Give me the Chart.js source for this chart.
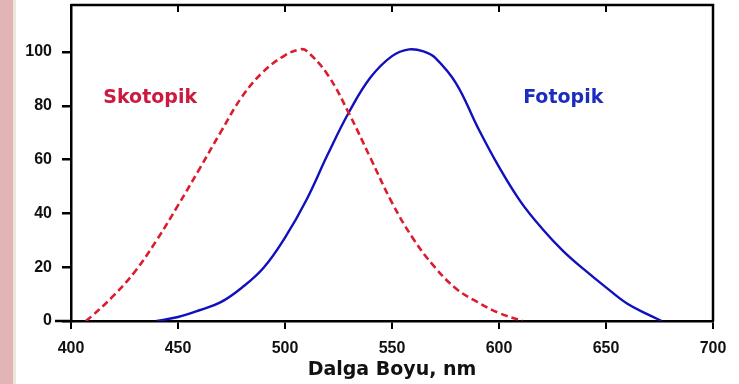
<!DOCTYPE html>
<html>
<head>
<meta charset="utf-8">
<script src="https://cdn.jsdelivr.net/npm/chart.js@4.4.1/dist/chart.umd.min.js"></script>
<style>
    body { margin: 0; width: 739px; height: 384px; background: #fff; position: relative; overflow: hidden; }
    #franja { position: absolute; left: 0; top: 0; width: 13px; height: 384px; background: #e2b4b5; }
    #franja2 { position: absolute; left: 13px; top: 0; width: 3px; height: 384px; background: #ece8de; }
    #caja { position: absolute; left: 16px; top: 0; width: 723px; height: 384px; }
</style>
</head>
<body>
<div id="franja"></div>
<div id="franja2"></div>
<div id="caja"><canvas id="grafico" width="723" height="384"></canvas></div>

<script>
// datos (longitud de onda en nm, sensibilidad relativa)
const nmSkotopik = [407, 410, 420, 430, 440, 450, 460, 470, 480, 490, 500, 507, 510, 520, 530, 540, 550, 560, 570, 580, 590, 600, 611]
const valSkotopik = [0, 2, 9.5, 18.5, 30, 43, 56.5, 70.3, 83.5, 92.8, 98.8, 101, 100.5, 91.5, 77, 60.5, 44, 30.5, 20, 12, 7, 3, 0]

const nmFotopik = [440, 450, 460, 470, 480, 490, 500, 510, 520, 530, 540, 550, 558, 565, 570, 580, 590, 600, 610, 620, 630, 640, 650, 660, 670, 676]
const valFotopik = [0, 1.5, 4, 7, 12.5, 19.8, 31, 45, 62, 77.8, 90.6, 98.5, 101, 100.2, 98, 88.3, 72.1, 57.3, 44.5, 34.5, 26, 19, 12.5, 6.4, 2.3, 0]

const nombres = ["Skotopik", "Fotopik"]
const ticksX = [400, 450, 500, 550, 600, 650, 700]
const ticksY = [0, 20, 40, 60, 80, 100]

const rojo = "#dc1c2e"
const azul = "#1010bc"

const puntos = (xs, ys) => xs.map((x, i) => ({ x: x, y: ys[i] }))

// donde van los nombres de las curvas (en unidades del grafico)
const lugarNombres = [{ x: 437, y: 83, color: "#cc1a3f" }, { x: 630, y: 83, color: "#1c2cbf" }]

// marco, marcas de arriba y linea del cero
const marco = {
    id: "marco",
    afterDraw(chart) {
        const { ctx, chartArea: a, scales } = chart
        ctx.save()
        ctx.strokeStyle = "#000"
        ctx.lineWidth = 2.5
        ctx.beginPath()
        ctx.moveTo(a.left, a.top)
        ctx.lineTo(a.right, a.top)
        ctx.lineTo(a.right, a.bottom)
        ctx.stroke()

        ctx.lineWidth = 2
        ticksX.slice(1, -1).forEach(v => {
            const x = scales.x.getPixelForValue(v)
            ctx.beginPath()
            ctx.moveTo(x, a.top)
            ctx.lineTo(x, a.top + 7)
            ctx.stroke()
        })

        const y0 = scales.y.getPixelForValue(0)
        ctx.lineWidth = 2.5
        ctx.beginPath()
        ctx.moveTo(a.left - 16, y0)
        ctx.lineTo(a.left, y0)
        ctx.stroke()

        ctx.font = 'bold 19px "DejaVu Sans", sans-serif'
        ctx.textAlign = "center"
        ctx.textBaseline = "middle"
        nombres.forEach((n, i) => {
            const p = lugarNombres[i]
            ctx.fillStyle = p.color
            ctx.fillText(n, scales.x.getPixelForValue(p.x), scales.y.getPixelForValue(p.y))
        })
        ctx.restore()
    }
}

const config = {
    type: "line",
    data: {
        datasets: [
            {
                label: nombres[0],
                data: puntos(nmSkotopik, valSkotopik),
                borderColor: rojo,
                borderWidth: 2.6,
                borderDash: [7, 4],
                pointRadius: 0,
                tension: 0.4
            },
            {
                label: nombres[1],
                data: puntos(nmFotopik, valFotopik),
                borderColor: azul,
                borderWidth: 2.4,
                pointRadius: 0,
                tension: 0.4
            }
        ]
    },
    options: {
        responsive: false,
        animation: false,
        layout: { padding: { top: 5, right: 26, left: 0, bottom: 0 } },
        plugins: { legend: { display: false }, tooltip: { enabled: false } },
        scales: {
            x: {
                type: "linear",
                min: 400,
                max: 700,
                afterFit: (s) => { s.height = 63 },
                border: { display: true, color: "#000", width: 2.5 },
                grid: { drawOnChartArea: false, drawTicks: true, tickLength: 8, color: "#000", lineWidth: 2 },
                ticks: {
                    stepSize: 10,
                    autoSkip: false,
                    maxRotation: 0,
                    padding: 10,
                    color: "#111",
                    font: { family: '"Liberation Sans", Arial, sans-serif', size: 16, weight: "bold" },
                    callback: (v) => ticksX.includes(v) ? v : null
                },
                title: {
                    display: true,
                    text: "Dalga Boyu, nm",
                    color: "#111",
                    font: { family: '"DejaVu Sans", sans-serif', size: 19, weight: "bold" },
                    padding: { top: 0, bottom: 3 }
                }
            },
            y: {
                min: 0,
                max: 117.5,
                afterFit: (s) => { s.width = 55; s.paddingTop = 0; s.paddingBottom = 0 },
                afterBuildTicks: (s) => { s.ticks = s.ticks.filter(t => t.value <= 100) },
                border: { display: true, color: "#000", width: 2.5 },
                grid: {
                    drawOnChartArea: false,
                    drawTicks: true,
                    tickLength: 9,
                    color: "#000",
                    lineWidth: (c) => c.tick && c.tick.value % 20 === 0 ? 2.5 : 1.5
                },
                ticks: {
                    stepSize: 10,
                    autoSkip: false,
                    padding: 10,
                    color: "#111",
                    font: { family: '"Liberation Sans", Arial, sans-serif', size: 16, weight: "bold" },
                    callback: (v) => ticksY.includes(v) ? v : null
                }
            }
        }
    },
    plugins: [marco]
}

const grafico = new Chart(document.getElementById("grafico"), config)
</script>
</body>
</html>
